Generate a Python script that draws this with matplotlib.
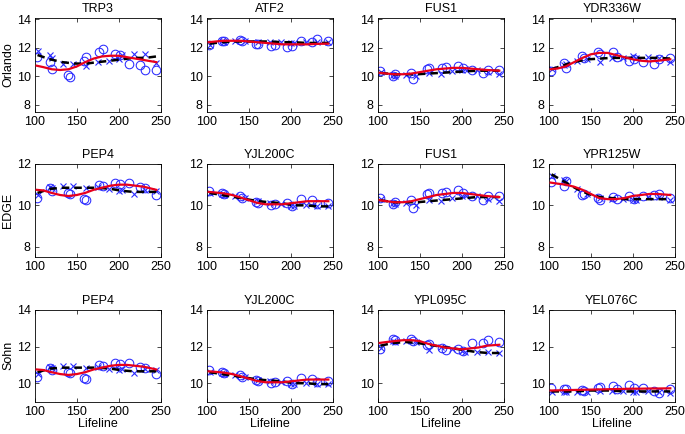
import matplotlib
matplotlib.use("Agg")
import matplotlib.pyplot as plt

plt.rcParams['font.family'] = ['Liberation Sans', 'DejaVu Sans']

# ---- shared x positions (Lifeline time) ----
x_circ = [102, 118, 120, 140, 142, 159, 161, 177, 181, 196, 201, 212, 225, 232, 245]
x_cross = [103, 118, 120, 133, 146, 161, 175, 188, 200, 204, 218, 232, 245]
x_dash = [103, 118, 133, 147, 161, 175, 190, 204, 218, 232, 245]
x_red = [102, 110, 120, 130, 140, 150, 160, 170, 180, 190, 200, 210, 220, 230, 245]

# ---- per gene data ----
TRP3_circ = [11.35, 11.0, 10.5, 10.1, 9.95, 11.1, 11.35, 11.7, 11.9, 11.55, 11.5, 10.9, 10.8, 10.45, 10.45]
TRP3_cross = [11.75, 11.5, 11.3, 10.85, 10.85, 10.75, 11.0, 11.1, 11.2, 11.5, 11.6, 11.6, 10.95]
TRP3_dash = [11.5, 11.2, 11.0, 10.9, 10.9, 11.0, 11.1, 11.2, 11.3, 11.3, 11.4]
TRP3_red = [10.75, 10.65, 10.5, 10.45, 10.5, 10.7, 11.0, 11.25, 11.4, 11.45, 11.45, 11.35, 11.25, 11.15, 11.0]

ATF2_circ = [12.2, 12.5, 12.45, 12.55, 12.5, 12.3, 12.25, 12.1, 12.2, 12.05, 12.1, 12.45, 12.4, 12.6, 12.45]
ATF2_cross = [12.2, 12.45, 12.4, 12.5, 12.5, 12.4, 12.4, 12.4, 12.35, 12.35, 12.4, 12.4, 12.4]
ATF2_dash = [12.3, 12.4, 12.45, 12.45, 12.45, 12.45, 12.4, 12.4, 12.35, 12.35, 12.35]
ATF2_red = [12.4, 12.45, 12.5, 12.5, 12.5, 12.45, 12.4, 12.35, 12.3, 12.25, 12.25, 12.25, 12.25, 12.28, 12.3]

FUS1_circ = [10.35, 10.05, 10.15, 10.25, 9.85, 10.55, 10.6, 10.6, 10.65, 10.75, 10.6, 10.45, 10.25, 10.45, 10.45]
FUS1_cross = [10.3, 10.1, 10.05, 10.1, 10.0, 10.25, 10.2, 10.35, 10.45, 10.5, 10.45, 10.3, 10.2]
FUS1_dash = [10.25, 10.15, 10.15, 10.15, 10.2, 10.25, 10.3, 10.35, 10.4, 10.4, 10.4]
FUS1_red = [10.25, 10.2, 10.15, 10.15, 10.2, 10.3, 10.4, 10.5, 10.55, 10.6, 10.6, 10.55, 10.5, 10.45, 10.4]

YDR336W_circ = [10.4, 10.95, 10.6, 11.4, 11.3, 11.7, 11.55, 11.7, 11.35, 11.1, 11.25, 11.0, 10.9, 11.2, 11.3]
YDR336W_cross = [10.5, 10.8, 10.9, 11.1, 11.2, 11.0, 11.3, 11.3, 11.4, 11.3, 11.35, 11.3, 11.0]
YDR336W_dash = [10.5, 10.8, 11.05, 11.2, 11.25, 11.3, 11.3, 11.3, 11.3, 11.3, 11.25]
YDR336W_red = [10.5, 10.55, 10.7, 11.0, 11.3, 11.55, 11.65, 11.65, 11.5, 11.35, 11.2, 11.1, 11.05, 11.1, 11.2]

PEP4_circ = [10.35, 10.85, 10.7, 10.6, 10.55, 10.3, 10.25, 11.0, 10.95, 11.1, 11.05, 11.1, 10.9, 10.85, 10.5]
PEP4_cross = [10.5, 10.9, 10.85, 10.95, 10.95, 10.85, 10.9, 10.8, 10.7, 10.75, 10.55, 10.75, 10.7]
PEP4_dash = [10.6, 10.8, 10.85, 10.85, 10.85, 10.85, 10.8, 10.7, 10.65, 10.65, 10.65]
PEP4_red = [10.75, 10.72, 10.6, 10.5, 10.45, 10.5, 10.6, 10.75, 10.85, 10.95, 11.0, 11.0, 10.95, 10.9, 10.75]

YJL200C_circ = [10.7, 10.6, 10.55, 10.45, 10.35, 10.15, 10.1, 10.0, 10.05, 10.1, 9.95, 10.3, 10.25, 10.05, 10.1]
YJL200C_cross = [10.6, 10.55, 10.5, 10.45, 10.35, 10.2, 10.1, 10.05, 9.95, 9.95, 10.0, 9.95, 9.95]
YJL200C_dash = [10.6, 10.5, 10.4, 10.3, 10.2, 10.15, 10.1, 10.0, 10.0, 9.95, 9.95]
YJL200C_red = [10.65, 10.62, 10.58, 10.5, 10.38, 10.25, 10.12, 10.05, 10.05, 10.05, 10.1, 10.15, 10.2, 10.2, 10.2]

YPR125W_circ = [11.15, 10.95, 11.2, 10.5, 10.55, 10.35, 10.25, 10.4, 10.3, 10.45, 10.3, 10.45, 10.5, 10.55, 10.35]
YPR125W_cross = [11.4, 11.25, 11.2, 10.8, 10.55, 10.35, 10.3, 10.3, 10.25, 10.25, 10.4, 10.4, 10.25]
YPR125W_dash = [11.5, 11.15, 10.8, 10.55, 10.4, 10.35, 10.3, 10.3, 10.3, 10.3, 10.3]
YPR125W_red = [11.1, 11.05, 11.0, 10.9, 10.75, 10.55, 10.35, 10.3, 10.3, 10.35, 10.45, 10.5, 10.55, 10.55, 10.5]

YPL095C_circ = [11.85, 12.4, 12.35, 12.4, 12.3, 12.1, 12.15, 11.95, 11.8, 11.85, 11.75, 12.2, 12.2, 12.35, 12.25]
YPL095C_cross = [11.9, 12.3, 12.25, 12.3, 12.25, 11.8, 12.0, 11.85, 11.75, 11.7, 11.7, 11.7, 11.65]
YPL095C_dash = [12.05, 12.2, 12.25, 12.2, 12.1, 12.0, 11.9, 11.8, 11.7, 11.65, 11.65]
YPL095C_red = [12.2, 12.25, 12.3, 12.35, 12.35, 12.3, 12.15, 12.05, 11.95, 11.9, 11.85, 11.9, 11.95, 12.05, 12.1]

YEL076C_circ = [9.75, 9.7, 9.7, 9.65, 9.6, 9.75, 9.8, 9.85, 9.7, 9.9, 9.75, 9.75, 9.55, 9.45, 9.7]
YEL076C_cross = [9.5, 9.5, 9.5, 9.5, 9.5, 9.6, 9.6, 9.55, 9.5, 9.5, 9.55, 9.5, 9.45]
YEL076C_dash = [9.55, 9.55, 9.55, 9.6, 9.6, 9.6, 9.55, 9.55, 9.55, 9.55, 9.55]
YEL076C_red = [9.6, 9.61, 9.62, 9.63, 9.64, 9.65, 9.66, 9.67, 9.68, 9.69, 9.7, 9.7, 9.71, 9.71, 9.72]

genes = {
    'TRP3': (TRP3_circ, TRP3_cross, TRP3_dash, TRP3_red),
    'ATF2': (ATF2_circ, ATF2_cross, ATF2_dash, ATF2_red),
    'FUS1': (FUS1_circ, FUS1_cross, FUS1_dash, FUS1_red),
    'YDR336W': (YDR336W_circ, YDR336W_cross, YDR336W_dash, YDR336W_red),
    'PEP4': (PEP4_circ, PEP4_cross, PEP4_dash, PEP4_red),
    'YJL200C': (YJL200C_circ, YJL200C_cross, YJL200C_dash, YJL200C_red),
    'YPR125W': (YPR125W_circ, YPR125W_cross, YPR125W_dash, YPR125W_red),
    'YPL095C': (YPL095C_circ, YPL095C_cross, YPL095C_dash, YPL095C_red),
    'YEL076C': (YEL076C_circ, YEL076C_cross, YEL076C_dash, YEL076C_red),
}

row_names = ['Orlando', 'EDGE', 'Sohn']
grid_genes = [
    ['TRP3', 'ATF2', 'FUS1', 'YDR336W'],
    ['PEP4', 'YJL200C', 'FUS1', 'YPR125W'],
    ['PEP4', 'YJL200C', 'YPL095C', 'YEL076C'],
]
row_ylim = [(7.5, 14.1), (7.5, 12.0), (9.0, 14.0)]
row_yticks = [[8, 10, 12, 14], [8, 10, 12], [10, 12, 14]]
x_ticks = [100, 150, 200, 250]

W, H = 685, 434
fig = plt.figure(figsize=(W / 100, H / 100), dpi=100)
col_left = [35, 207, 378, 549]
ax_w = 125.5
row_top = [18, 164, 310]
row_bot = [112, 257, 401.5]

for r in range(3):
    for c in range(4):
        g = grid_genes[r][c]
        circ, cross, dash, red = genes[g]
        ax = fig.add_axes([col_left[c] / W, 1 - row_bot[r] / H, ax_w / W,
                           (row_bot[r] - row_top[r]) / H])
        ax.plot(x_circ, circ, 'o', mfc='none', mec='#2a2aff', ms=6.2, mew=0.75, zorder=2)
        ax.plot(x_cross, cross, 'x', color='#2a2aff', ms=5, mew=0.8, zorder=2)
        ax.plot(x_dash, dash, color='black', lw=1.8, ls=(0, (3, 2)), zorder=3)
        ax.plot(x_red, red, color='#e8001c', lw=1.6, zorder=4)
        ax.set_xlim(100, 250)
        ax.set_ylim(*row_ylim[r])
        ax.set_xticks(x_ticks)
        ax.set_yticks(row_yticks[r])
        ax.tick_params(direction='in', top=True, right=True, length=3,
                       width=0.5, labelsize=9, pad=3)
        for s in ax.spines.values():
            s.set_linewidth(0.6)
        ax.set_title(g, fontsize=9, pad=4)
        if c == 0:
            ax.set_ylabel(row_names[r], fontsize=9, labelpad=2)
        if r == 2:
            ax.set_xlabel('Lifeline', fontsize=9, labelpad=0)

fig.savefig('out.png', dpi=100)
